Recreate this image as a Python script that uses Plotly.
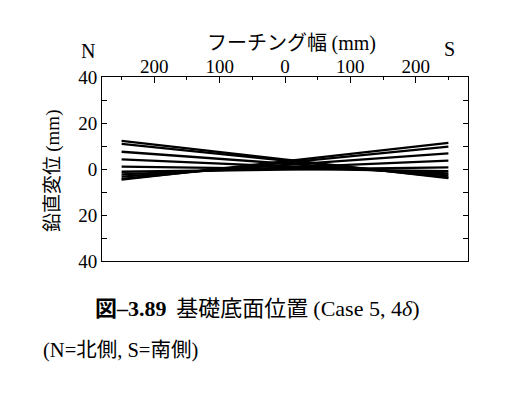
import plotly.graph_objects as go

# footing width positions (mm): N end and S end
x_pos = [-250, 250]
# vertical displacement (mm) at N end and S end for each recorded state
north_end = [12.2, 10.9, 7.5, 4.2, 1.0, -1.2, -2.3, -3.3, -4.3, -4.6]
south_end = [-4.0, -3.6, -2.8, -1.9, -0.9, 0.7, 3.6, 6.8, 9.7, 11.4]

x_ticks = [-200, -100, 0, 100, 200]
x_tick_text = ["200", "100", "0", "100", "200"]
y_ticks = [-40, -20, 0, 20, 40]
y_tick_text = ["40", "20", "0", "20", "40"]

serif = "Liberation Serif, Times New Roman, serif"
jp = "Noto Sans CJK JP, sans-serif"

L, R, T, B = 102, 42, 77, 132
W, H = 510, 393

fig = go.Figure()
for n, s in zip(north_end, south_end):
    fig.add_trace(go.Scatter(x=x_pos, y=[n, s], mode="lines",
                             line=dict(color="black", width=2.3),
                             showlegend=False, hoverinfo="skip"))

fig.update_layout(
    width=W, height=H,
    margin=dict(l=L, r=R, t=T, b=B, autoexpand=False),
    paper_bgcolor="white", plot_bgcolor="white",
    font=dict(family=serif, size=19, color="black"),
)
fig.update_xaxes(
    side="top", range=[-280, 280], automargin=False,
    tickvals=x_ticks, ticktext=x_tick_text,
    ticks="inside", ticklen=6, tickwidth=1, tickcolor="black",
    ticklabelstandoff=-5,
    minor=dict(tickvals=[-250, -150, -50, 50, 150, 250], ticks="inside",
               ticklen=3, tickcolor="black"),
    showline=True, linecolor="black", linewidth=1, mirror=True,
    showgrid=False, zeroline=False,
    tickfont=dict(family=serif, size=19),
)
fig.update_yaxes(
    range=[-40, 40], automargin=False,
    tickvals=y_ticks, ticktext=y_tick_text,
    ticks="inside", ticklen=5, tickwidth=1, tickcolor="black",
    minor=dict(tickvals=[-30, -10, 10, 30], ticks="inside",
               ticklen=5, tickcolor="black"),
    showline=True, linecolor="black", linewidth=1, mirror="ticks",
    showgrid=False, zeroline=False,
    tickfont=dict(family=serif, size=19),
)

sp = "<span style='font-family:Liberation Serif'>{}</span>"
ann = [
    dict(text="フーチング幅 " + sp.format("(mm)"),
         x=291, y=41, font=dict(family=jp, size=20)),
    dict(text="N", x=88, y=51, font=dict(family=serif, size=20)),
    dict(text="S", x=449, y=49, font=dict(family=serif, size=20)),
    dict(text="鉛直変位 " + sp.format("(mm)"),
         x=50, y=171, textangle=-90, font=dict(family=jp, size=19)),
    dict(text="<b>図" + sp.format("–3.89") + "</b>  基礎底面位置 " + sp.format("(Case 5, 4<i>δ</i>)"),
         x=93, y=306, xanchor="left", font=dict(family=jp, size=22)),
    dict(text=sp.format("(N=") + "北側" + sp.format(", S=") + "南側" + sp.format(")"),
         x=41, y=348, xanchor="left", font=dict(family=jp, size=20.5)),
]
for a in ann:
    a.setdefault("xanchor", "center")
    fig.add_annotation(xref="paper", yref="paper", showarrow=False,
                       x=(a.pop("x") - L) / (W - L - R),
                       y=1 - (a.pop("y") - T) / (H - T - B),
                       yanchor="middle", **a)

fig.write_html("out.html", config={"displayModeBar": False},
               post_script="document.body.style.margin='0';")
